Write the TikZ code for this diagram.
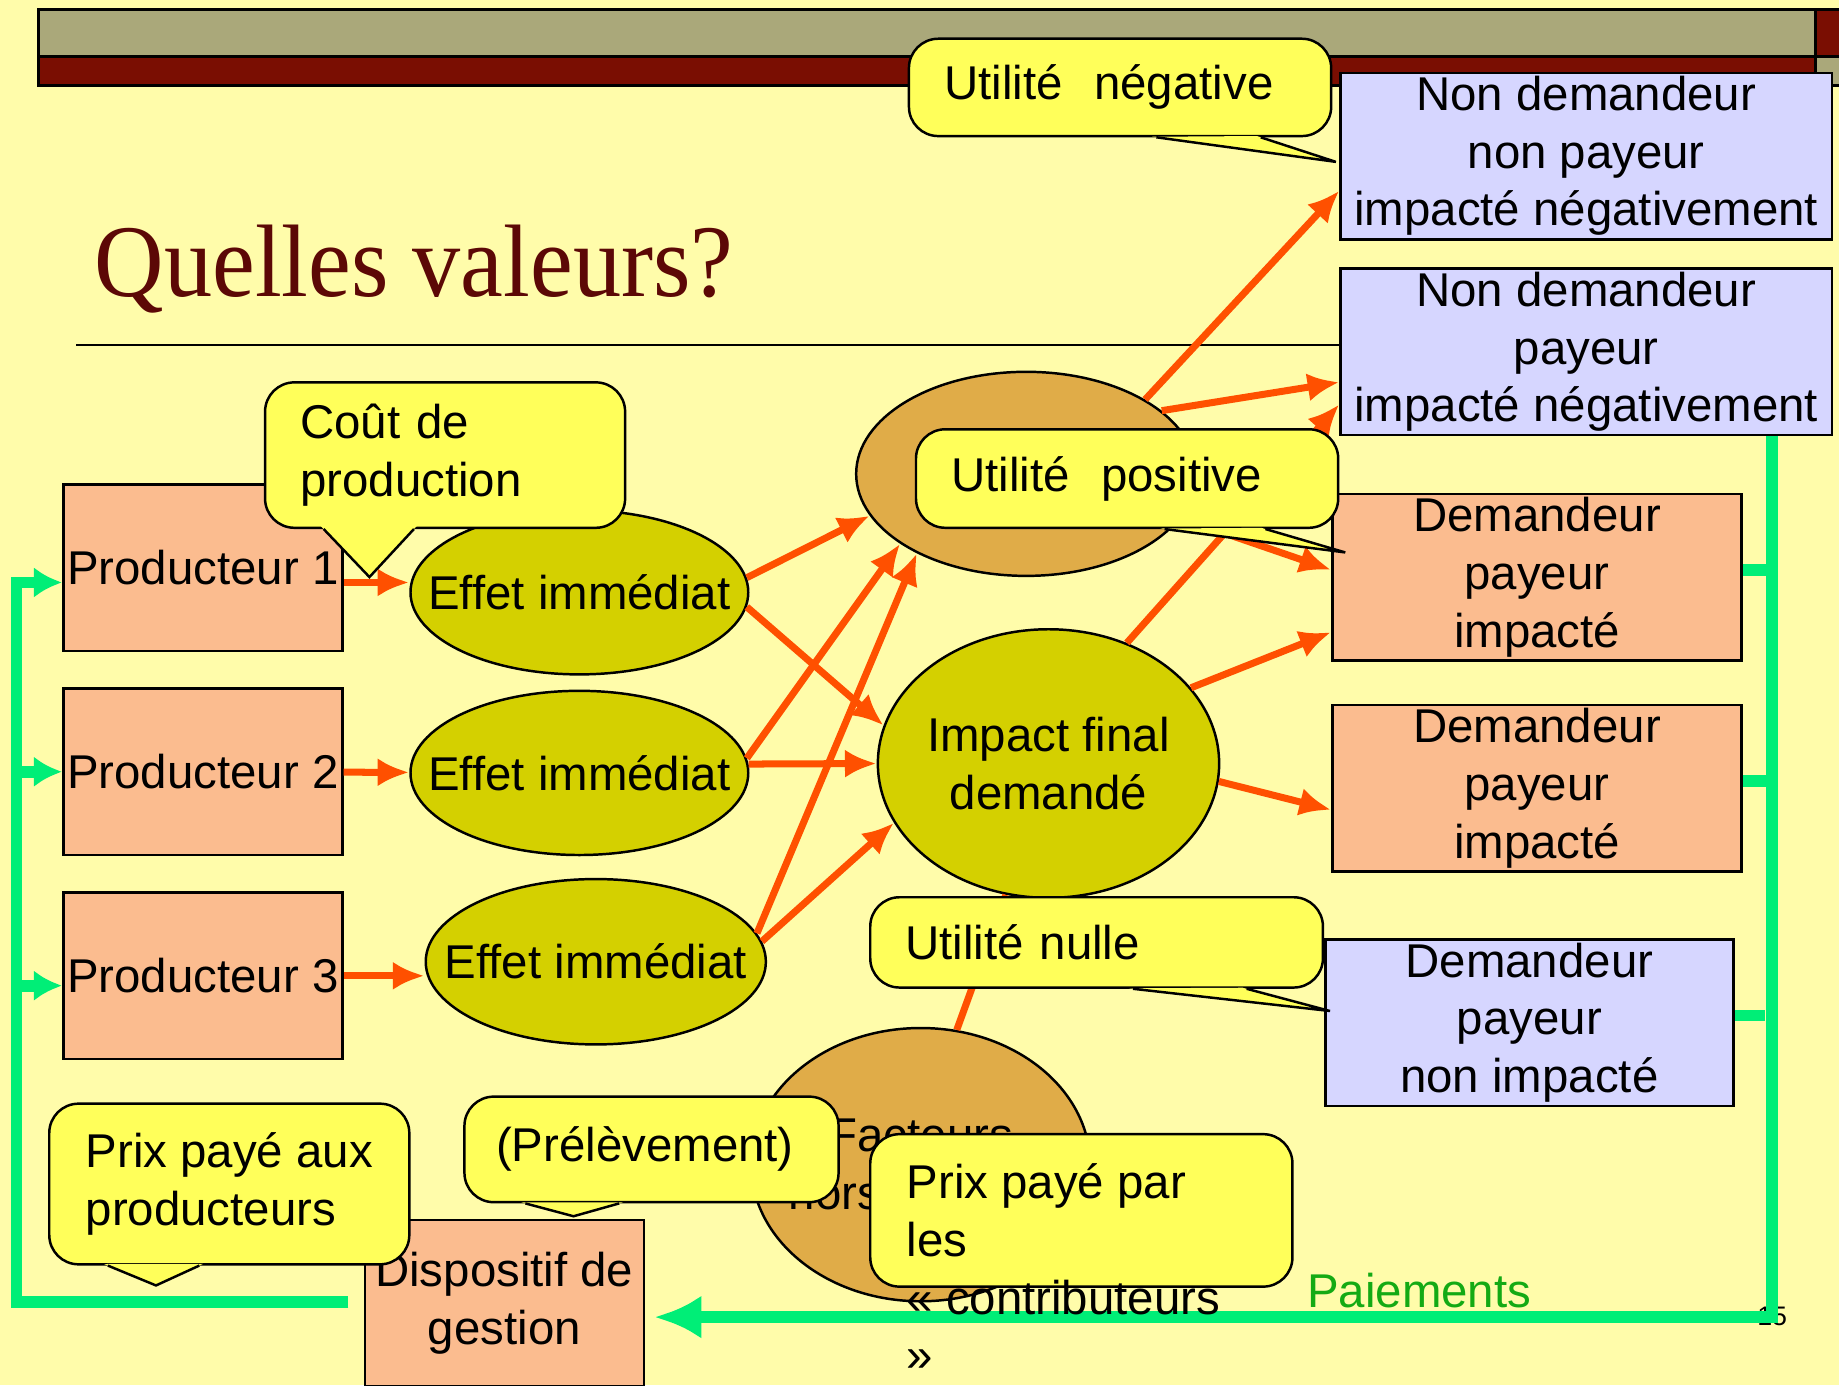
\documentclass[tikz,border=0pt]{standalone}
\usepackage{fontspec}
\setmainfont{Liberation Sans}
\newfontfamily\titrefont[FakeStretch=0.934]{Liberation Serif}
\usetikzlibrary{shapes.geometric, arrows.meta, calc}
\definecolor{fond}{RGB}{255,252,170}
\definecolor{kaki}{RGB}{170,168,122}
\definecolor{bordeaux}{RGB}{122,14,2}
\definecolor{rougetitre}{RGB}{92,8,6}
\definecolor{jaunebulle}{RGB}{255,255,90}
\definecolor{saumon}{RGB}{251,188,143}
\definecolor{lavande}{RGB}{214,214,255}
\definecolor{olivefonce}{RGB}{212,208,0}
\definecolor{ocre}{RGB}{224,172,72}
\definecolor{orangeflux}{RGB}{255,80,0}
\definecolor{vertflux}{RGB}{0,238,119}
\definecolor{vertpaie}{RGB}{20,170,20}

% pointe d'une bulle : noeud, decalages depuis le coin bas gauche, sommet
\newcommand{\pointe}[4]{%
  \coordinate (#1-a) at ([xshift=#2]#1.south west);
  \coordinate (#1-b) at ([xshift=#3]#1.south west);
  \fill[jaunebulle] ($(#1-a)!-1pt!(#4)$) -- (#4) -- ($(#1-b)!-1pt!(#4)$) -- cycle;
  \draw[line width=0.6pt] (#1-a) -- (#4) -- (#1-b);}

\begin{document}
\begin{tikzpicture}[x=0.1mm, y=-0.1mm,
    every node/.style={font=\fontsize{11.5}{14}\selectfont},
    boite/.style={rectangle, draw, line width=0.6pt, inner sep=0pt, align=center, minimum height=14.2mm},
    prod/.style={boite, fill=saumon, minimum width=23.8mm},
    demandeur/.style={boite, fill=saumon, minimum width=34.9mm},
    nondem/.style={boite, fill=lavande, minimum width=41.9mm},
    effet/.style={ellipse, draw, line width=0.6pt, fill=olivefonce, inner sep=0pt},
    valeur/.style={ellipse, draw, line width=0.6pt, fill=ocre, inner sep=0pt},
    bulle/.style={rectangle, draw, line width=0.6pt, fill=jaunebulle, rounded corners=2.5mm,
                  inner xsep=3mm, inner ysep=0pt, align=left},
    fleche/.style={draw=orangeflux, line width=1.7pt, -{Latex[length=2.7mm,width=2.4mm]}},
    paie/.style={draw=vertflux, line width=1mm},
    pointevert/.style={-{Latex[length=2.4mm,width=2.6mm]}}]

    \useasboundingbox (0,0) rectangle (1568,1181);
    \fill[fond] (0,0) rectangle (1568,1181);

    %% bandeau du haut
    \draw[fill=kaki, line width=0.6pt] (33,8) rectangle (1548,48);
    \draw[fill=bordeaux, line width=0.6pt] (33,48) rectangle (1548,73);
    \draw[fill=bordeaux, line width=0.6pt] (1548,8) rectangle (1580,48);
    \draw[fill=kaki, line width=0.6pt] (1548,48) rectangle (1580,73);

    \node[anchor=base west, inner sep=0pt, text=rougetitre,
          font=\titrefont\fontsize{25}{30}\selectfont] (titre) at (80,253) {Quelles valeurs?};
    \draw[line width=0.6pt] (65,294) -- (1143,294);
    \node[font=\fontsize{6.5}{8}\selectfont] (page) at (1511,1122) {15};

    %% producteurs et effets
    \node[prod] (P1) at (173,484) {Producteur 1};
    \node[prod] (P2) at (173,658) {Producteur 2};
    \node[prod] (P3) at (173,832) {Producteur 3};

    \node[effet, minimum width=28.8mm, minimum height=14mm, label=center:Effet immédiat] (E1) at (494,505) {};
    \node[effet, minimum width=28.8mm, minimum height=14mm, label=center:Effet immédiat] (E2) at (494,659) {};
    \node[effet, minimum width=29mm, minimum height=14.1mm, label=center:Effet immédiat] (E3) at (508,820) {};

    \node[valeur, minimum width=29mm, minimum height=17.4mm] (UP) at (875,404) {};
    \node[effet, minimum width=29.1mm, minimum height=22.9mm,
          label={[align=center]center:Impact final\\demandé}] (IF) at (894,651) {};
    \node[valeur, minimum width=28.9mm, minimum height=23.3mm,
          label={[align=center]center:Facteurs\\hors\hphantom{ marché}}] (FH) at (785,993) {};

    %% beneficiaires
    \node[nondem] (ND1) at (1352.5,133) {Non demandeur\\non payeur\\impacté négativement};
    \node[nondem] (ND2) at (1352.5,300) {Non demandeur\\payeur\\impacté négativement};
    \node[demandeur] (DP1) at (1310.5,492) {Demandeur\\payeur\\impacté};
    \node[demandeur] (DP2) at (1310.5,672) {Demandeur\\payeur\\impacté};
    \node[nondem, minimum width=34.8mm] (DN) at (1304,872) {Demandeur\\payeur\\non impacté};
    \node[prod] (Disp) at (430,1111) {Dispositif de\\gestion};

    %%--------------------------flux-------------------------
    \path (P1.354) edge[fleche] (P1.354 -| E1.west);
    \path (P2) edge[fleche] (E2);
    \path (P3) edge[fleche] (P3 -| E3.west);

    \path (E1.5) edge[fleche] (UP.195);
    \path (E1.355) edge[fleche] (IF.167);
    \path (E2.5) edge[fleche] (UP.209);
    \path (E2.3) edge[fleche] (IF.180);
    \path (E3.10) edge[fleche] (UP.216);
    \path (E3.7) edge[fleche] (IF.201);

    \path (UP.32) edge[fleche] (ND1.188);
    \path (UP.25) edge[fleche] (ND2.187);
    \path (UP.344) edge[fleche] (DP1.178);
    \path (IF.57) edge[fleche] (ND2.192);
    \path (IF.28) edge[fleche] (DP1.195);
    \path (IF.354) edge[fleche] (DP2.186);
    \draw[draw=orangeflux, line width=1.7pt] (FH.75) -- (IF.252);

    %%--------------------------paiements--------------------
    \coordinate (droite) at (1511,1123);
    \coordinate (gauche) at (14,1110);
    \draw[paie, -{Latex[length=4mm,width=3.7mm]}, shorten >=0.8mm]
        (droite |- ND2.south) -- (droite) -- (Disp.east |- droite);
    \draw[paie] (DP1.2) -- (DP1.2 -| droite);
    \draw[paie] (DP2.2) -- (DP2.2 -| droite);
    \draw[paie, shorten >=0.6mm] (DN.2) -- (DN.2 -| droite);
    \draw[paie, pointevert, shorten <=1.3mm]
        (Disp.west |- gauche) -- (gauche) -- (gauche |- P1.186) -- (P1.186);
    \path (gauche |- P2.west) edge[paie, pointevert] (P2.west);
    \path (gauche |- P3.184) edge[paie, pointevert] (P3.184);
    \node[text=vertpaie] (paiements) at (1210,1100) {Paiements};

    %%--------------------------bulles-----------------------
    \node[bulle, text width=24.7mm, minimum height=12.4mm] (cout) at (379.5,388) {Coût de\\production};
    \coordinate (tcout) at (315,492);
    \pointe{cout}{5.1mm}{12.8mm}{tcout}

    \node[bulle, text width=30mm, minimum height=8.3mm] (neg) at (955,74.5) {Utilité~ négative};
    \coordinate (tneg) at (1139,138);
    \pointe{neg}{21.2mm}{30.1mm}{tneg}

    \node[bulle, text width=30mm, minimum height=8.4mm] (pos) at (961,408) {Utilité~ positive};
    \coordinate (tpos) at (1147,471);
    \pointe{pos}{21.3mm}{29.9mm}{tpos}

    \node[bulle, text width=32.6mm, minimum height=7.7mm] (nulle) at (935,803.5) {Utilité nulle};
    \coordinate (tnulle) at (1134,862);
    \pointe{nulle}{22.5mm}{32.2mm}{tnulle}

    \node[bulle, inner xsep=2.7mm, text width=26.5mm, minimum height=9mm] (prel) at (555.5,980) {(Prélèvement)};
    \coordinate (tprel) at (489,1037);
    \pointe{prel}{5.3mm}{13.3mm}{tprel}

    \node[bulle, minimum width=30.7mm, minimum height=13.7mm] (prixprod) at (195.5,1009.5) {Prix payé aux\\producteurs};
    \coordinate (tprix) at (133,1096);
    \pointe{prixprod}{5.1mm}{12.9mm}{tprix}

    \node[bulle, minimum width=36mm, minimum height=13mm] (prixcontr) at (922,1032)
        {\raisebox{1mm}[0pt][0pt]{\parbox[t]{29.8mm}{\raggedright Prix payé par\\les\\«~contributeurs\\»}}};

\end{tikzpicture}
\end{document}
